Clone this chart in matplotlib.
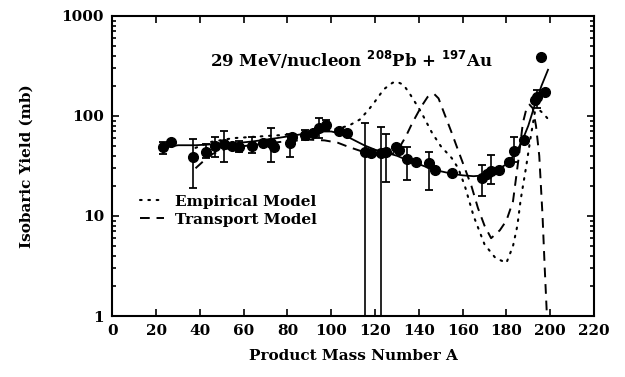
import numpy as np
import matplotlib
matplotlib.use("Agg")
import matplotlib.pyplot as plt

# measured isobaric yields: mass number, yield (mb), error-bar bounds (None = no bar)
mass = [23, 27, 37, 43, 47, 51, 54.5, 58, 64, 69, 72.5, 74, 81, 82, 88, 91.5,
        94.5, 97.7, 103.6, 107, 115.4, 118, 122.6, 125, 129.5, 131, 134.7,
        138.5, 144.5, 147.6, 155, 168.9, 171, 173, 176.5, 181, 183.3, 188,
        193.2, 194, 195.6, 197.8]
yield_mb = [49, 55, 39, 44, 50, 52, 50, 49, 50, 54, 54, 49, 54, 62, 65, 68,
            76, 81, 71, 67, 44, 43, 43, 44, 49, 46, 37,
            35, 34, 29, 27, 24, 26, 28, 29, 35, 45, 58,
            145, 155, 390, 174]
err_lo = [42, None, 19, 38, 39, 35, None, 44, 43, None, 35, None, 39, None, 58, None,
          60, 70, None, None, 0.5, None, 0.5, 22, None, None, 23,
          None, 18, None, None, 16, None, 21, None, None, 35, None,
          None, 120, None, None]
err_hi = [55, None, 59, 52, 62, 71, None, 56, 62, None, 76, None, 66, None, 72, None,
          95, 92, None, None, 85, None, 78, 66, None, None, 49,
          None, 44, None, None, 32, None, 41, None, None, 62, None,
          None, 180, None, None]

# smooth fit through the data
fit_A = [23, 30, 38, 45, 55, 65, 75, 85, 95, 100, 105, 110, 115, 120, 125, 130,
         135, 140, 145, 150, 155, 160, 165, 170, 175, 180, 184, 187, 190, 193,
         196, 199]
fit_Y = [48, 51, 51, 52, 53, 56, 60, 65, 70, 70, 66, 58, 51, 46, 43, 40,
         36, 33, 30, 28, 26.5, 25.5, 25, 25.5, 28, 33, 42, 55, 80, 130,
         200, 290]

# empirical model (dotted)
emp_A = [38, 45, 55, 65, 75, 85, 95, 102, 108, 113, 117, 120, 124, 128, 130,
         133, 136, 141, 146, 150, 155, 158, 161, 165, 170, 175, 180, 183, 185,
         186.5, 189, 191, 193, 195, 197, 200]
emp_Y = [48, 55, 60, 62, 64, 66, 70, 74, 80, 92, 115, 140, 185, 215, 220,
         205, 165, 110, 68, 50, 38, 30, 20, 10, 5.2, 3.8, 3.4, 5, 8,
         14.5, 31, 60, 110, 115, 105, 88]

# transport model (dashed)
tr_A = [38, 42, 46, 52, 60, 70, 80, 90, 97, 103, 108, 113, 118, 123, 128, 131,
        134, 137, 141, 144, 147, 149, 151, 155, 158, 161, 164, 167, 170, 173,
        177, 180, 183, 184.5, 186, 187.5, 189, 190.5, 192, 193.5, 195, 196.5,
        197.5, 198.5]
tr_Y = [30, 36, 42, 47, 50, 53, 56, 58, 57, 54, 49, 45, 42, 40, 42, 48,
        62, 85, 123, 155, 166, 150, 115, 68, 45, 30, 20, 12, 8, 6,
        7.2, 9, 14, 25, 45, 85, 115, 130, 120, 80, 40, 10,
        3, 1]

plt.rcParams['font.family'] = 'DejaVu Serif'
plt.rcParams['font.weight'] = 'bold'

fig = plt.figure(figsize=(6.25, 3.77), dpi=100)
ax = fig.add_axes([0.1797, 0.1618, 0.7707, 0.7958])

ax.plot(emp_A, emp_Y, color='black', linestyle=(0, (0.8, 3.2)), lw=1.5,
        dash_capstyle='round', label='Empirical Model')
ax.plot(tr_A, tr_Y, color='black', linestyle=(0, (5, 3.5)), lw=1.4,
        label='Transport Model')
ax.plot(fit_A, fit_Y, color='black', lw=1.3)

# error bars for the points that have them
bar_idx = [i for i in range(len(mass)) if err_lo[i] is not None]
bx = [mass[i] for i in bar_idx]
by = [yield_mb[i] for i in bar_idx]
lo = [yield_mb[i] - err_lo[i] for i in bar_idx]
hi = [err_hi[i] - yield_mb[i] for i in bar_idx]
ax.errorbar(bx, by, yerr=[lo, hi], fmt='none', ecolor='black',
            elinewidth=1.2, capsize=3, capthick=1.3)
ax.plot(mass, yield_mb, 'o', color='black', ms=7)

ax.set_yscale('log')
ax.set_xlim(0, 220)
ax.set_ylim(1, 1000)
ax.set_xticks(np.arange(0, 221, 20))
ax.set_yticks([1, 10, 100, 1000])
ax.set_yticklabels(['1', '10', '100', '1000'])
ax.tick_params(which='both', direction='in', top=True, right=True,
               labelsize=11, width=1.2)
ax.tick_params(which='major', length=5, pad=6)
ax.tick_params(which='minor', length=3)
for s in ax.spines.values():
    s.set_linewidth(1.5)

ax.set_xlabel('Product Mass Number A', fontsize=11, fontweight='bold', labelpad=8)
ax.set_ylabel('Isobaric Yield (mb)', fontsize=11, fontweight='bold', labelpad=20)

ax.text(109, 360, r'29 MeV/nucleon $^{\mathbf{208}}$Pb + $^{\mathbf{197}}$Au',
        ha='center', va='center', fontsize=12, fontweight='bold')

ax.legend(loc='upper left', bbox_to_anchor=(0.035, 0.44), frameon=False,
          fontsize=11, handlelength=1.6, handletextpad=0.7, labelspacing=0.25,
          borderaxespad=0.3)

fig.savefig('out.png', dpi=100)
